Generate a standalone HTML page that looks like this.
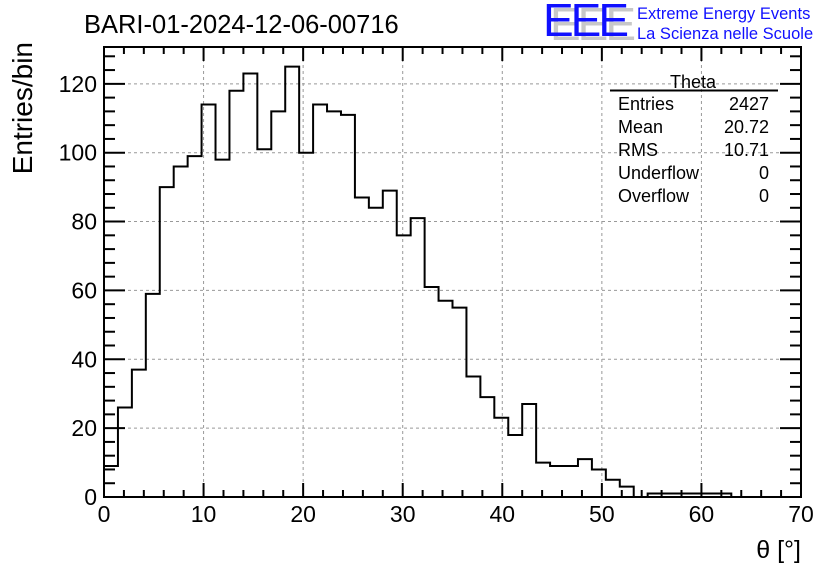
<!DOCTYPE html>
<html><head><meta charset="utf-8"><style>
body{margin:0;background:#fff}
svg{display:block;font-family:"Liberation Sans",sans-serif}
</style></head><body>
<svg id="c" width="836" height="572">
<rect width="836" height="572" fill="#fff"/>
<text x="84" y="33" font-size="25.5">BARI-01-2024-12-06-00716</text>
<g>
<text x="550" y="40" font-size="46" fill="#c8c8c8" letter-spacing="-3">EEE</text>
<text x="543" y="36" font-size="46" fill="#1010ff" letter-spacing="-3">EEE</text>
<text x="637" y="19" font-size="16.5" fill="#1010ff">Extreme Energy Events</text>
<text x="637" y="39" font-size="16.5" fill="#1010ff">La Scienza nelle Scuole</text>
</g>
<g id="grid"></g>
<g id="axes"></g>
<path id="hist" fill="none" stroke="#000" stroke-width="2"/>
<rect x="104" y="47" width="697" height="450" fill="none" stroke="#000" stroke-width="2"/>
<text x="32" y="42" font-size="28" transform="rotate(-90 32 42)" text-anchor="end">Entries/bin</text>
<text x="801" y="558" font-size="25" text-anchor="end">θ [°]</text>
<g font-size="18">
<text x="693" y="88" text-anchor="middle">Theta</text>
<line x1="610" y1="90.5" x2="778" y2="90.5" stroke="#000" stroke-width="2"/>
<text x="618" y="110">Entries</text><text x="769" y="110" text-anchor="end">2427</text>
<text x="618" y="133">Mean</text><text x="769" y="133" text-anchor="end">20.72</text>
<text x="618" y="156">RMS</text><text x="769" y="156" text-anchor="end">10.71</text>
<text x="618" y="179">Underflow</text><text x="769" y="179" text-anchor="end">0</text>
<text x="618" y="202">Overflow</text><text x="769" y="202" text-anchor="end">0</text>
</g>
</svg>
<script>
const binWidth = 1.4;
const counts = [9,26,37,59,90,96,99,114,98,118,123,101,112,125,100,114,112,111,87,84,89,76,81,61,57,55,35,29,23,18,27,10,9,9,11,8,5,3,0,1,1,1,1,1,1,0,0,0,0,0];
const xTicks = [0,10,20,30,40,50,60,70];
const yTicks = [0,20,40,60,80,100,120];
const X0=104,X1=801,Y0=497,Y1=47;
function sx(v){return X0+(v/70)*(X1-X0);}
function sy(v){return Y0-(v/130.7)*(Y0-Y1);}
const NS="http://www.w3.org/2000/svg";
const grid=document.getElementById('grid'), axes=document.getElementById('axes');
function mk(tag,attrs,parent){const e=document.createElementNS(NS,tag);for(const k in attrs)e.setAttribute(k,attrs[k]);parent.appendChild(e);return e;}
xTicks.forEach(t=>{
  const x=sx(t);
  if(t>0&&t<70){const g=mk('line',{x1:x,y1:Y1,x2:x,y2:Y0,stroke:'#999','stroke-dasharray':'3,3'},grid);
  
  }
  const l=mk('text',{x:x,y:522,'font-size':23,'text-anchor':'middle'},axes);l.textContent=t;
  
  
});
for(let v=0;v<=70;v+=2){const x=sx(v),len=(v%10===0)?14:7;
  mk('line',{x1:x,y1:Y0,x2:x,y2:Y0-len,stroke:'#000','stroke-width':2},axes);
  mk('line',{x1:x,y1:Y1,x2:x,y2:Y1+len,stroke:'#000','stroke-width':2},axes);}
yTicks.forEach(t=>{
  const y=sy(t);
  if(t>0){const g=mk('line',{x1:X0,y1:y,x2:X1,y2:y,stroke:'#999','stroke-dasharray':'3,3'},grid);
  
  }
  const l=mk('text',{x:97,y:y+8,'font-size':23,'text-anchor':'end'},axes);l.textContent=t;
  
  
});
for(let v=0;v<=128;v+=4){const y=sy(v),len=(v%20===0)?21:11;
  mk('line',{x1:X0,y1:y,x2:X0+len,y2:y,stroke:'#000','stroke-width':2},axes);
  mk('line',{x1:X1,y1:y,x2:X1-len,y2:y,stroke:'#000','stroke-width':2},axes);}
let d='M'+sx(0)+','+sy(0);
counts.forEach((c,i)=>{d+=' L'+sx(i*binWidth)+','+sy(c)+' L'+sx((i+1)*binWidth)+','+sy(c);});
d+=' L'+sx(counts.length*binWidth)+','+sy(0);
document.getElementById('hist').setAttribute('d',d);
</script>
</body></html>
